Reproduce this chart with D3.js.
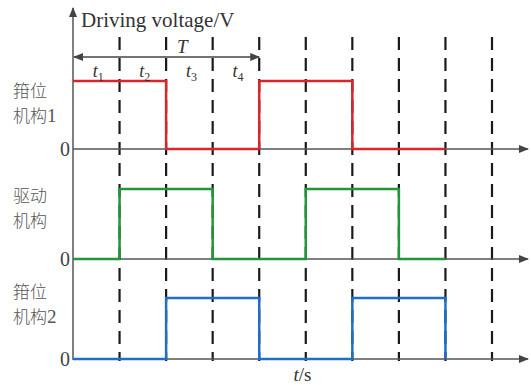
<!DOCTYPE html>
<html>
<head>
<meta charset="utf-8">
<script src="https://cdn.jsdelivr.net/npm/d3@7"></script>
<style>
body { margin:0; background:#fff; }
text { font-family: "Liberation Serif", "DejaVu Serif", serif; fill:#333; }
.cn { font-family: "Noto Sans CJK SC", sans-serif; fill:#555; font-weight:300; }
</style>
</head>
<body>
<svg width="531" height="385"></svg>
<script>
// one value per interval t..t+1
var steps = [0, 1, 2, 3, 4, 5, 6, 7];
var clamp1 = [1, 1, 0, 0, 1, 1, 0, 0];
var drive  = [0, 1, 1, 0, 0, 1, 1, 0];
var clamp2 = [0, 0, 1, 1, 0, 0, 1, 1];
var gridTimes = [1, 2, 3, 4, 5, 6, 7, 8, 9];
var phaseLabels = ["1", "2", "3", "4"];
var panelNames = [["箝位", "机构", "1"], ["驱动", "机构", ""], ["箝位", "机构", "2"]];

var svg = d3.select("svg");

var x = d3.scaleLinear().domain([0, 9]).range([73, 492]);
var panels = [
  { y: d3.scaleLinear().domain([0, 1]).range([149, 81]), data: clamp1, color: "#d8262b", ny: 91 },
  { y: d3.scaleLinear().domain([0, 1]).range([259, 189]), data: drive, color: "#22963a", ny: 196 },
  { y: d3.scaleLinear().domain([0, 1]).range([359, 298]), data: clamp2, color: "#1f6fc6", ny: 292 }
];

var defs = svg.append("defs");
defs.append("marker").attr("id", "arr").attr("viewBox", "0 0 10 10")
  .attr("refX", 9).attr("refY", 5).attr("markerWidth", 10).attr("markerHeight", 10)
  .attr("markerUnits", "userSpaceOnUse").attr("orient", "auto-start-reverse")
  .append("path").attr("d", "M0,1 L10,5 L0,9 Z").attr("fill", "#444");

// dashed grid
svg.selectAll(".grid").data(gridTimes).enter().append("line")
  .attr("x1", d => x(d)).attr("x2", d => x(d))
  .attr("y1", 37).attr("y2", 361)
  .attr("stroke", "#1a1a1a").attr("stroke-width", 2.2)
  .attr("stroke-dasharray", "13,8");

// axes
svg.append("line").attr("x1", x(0)).attr("x2", x(0)).attr("y1", 360).attr("y2", 8)
  .attr("stroke", "#555").attr("stroke-width", 1.5).attr("marker-end", "url(#arr)");

panels.forEach(function(p, k) {
  svg.append("line").attr("x1", x(0)).attr("x2", 528).attr("y1", p.y(0)).attr("y2", p.y(0))
    .attr("stroke", "#555").attr("stroke-width", 1.5).attr("marker-end", "url(#arr)");
  svg.append("text").attr("x", 70).attr("y", p.y(0) + 7).attr("text-anchor", "end")
    .style("font-size", "20px").style("fill", "#444").text("0");

  svg.append("text").attr("class", "cn").attr("x", 13).attr("y", p.ny + 6)
    .style("font-size", "17px").text(panelNames[k][0]);
  var lbl = svg.append("text").attr("x", 13).attr("y", p.ny + 31).style("fill", "#555");
  lbl.append("tspan").attr("class", "cn").style("font-size", "17px").text(panelNames[k][1]);
  lbl.append("tspan").style("font-size", "19px").text(panelNames[k][2]);

  var pts = steps.map((s, i) => [s, p.data[i]]);
  pts.push([steps.length, p.data[p.data.length - 1]]);
  pts.push([steps.length, 0]);
  var line = d3.line().x(d => x(d[0])).y(d => p.y(d[1])).curve(d3.curveStepAfter);
  svg.append("path").datum(pts).attr("d", line)
    .attr("fill", "none").attr("stroke", p.color).attr("stroke-width", 2.5);
});

svg.append("text").attr("x", 81).attr("y", 27).style("font-size", "21px").text("Driving voltage/V");

// period arrow
svg.append("line").attr("x1", x(0) + 1).attr("x2", x(4)).attr("y1", 57).attr("y2", 57)
  .attr("stroke", "#444").attr("stroke-width", 1.3)
  .attr("marker-start", "url(#arr)").attr("marker-end", "url(#arr)");
svg.append("text").attr("x", x(2.35)).attr("y", 53).attr("text-anchor", "middle")
  .style("font-size", "19px").style("font-style", "italic").text("T");

phaseLabels.forEach(function(s, i) {
  var t = svg.append("text").attr("x", x(i + 0.5) + 2).attr("y", 77).attr("text-anchor", "middle")
    .style("font-size", "18px");
  t.append("tspan").style("font-style", "italic").text("t");
  t.append("tspan").attr("dy", 4).style("font-size", "12px").text(s);
});

var ts = svg.append("text").attr("x", x(4.93)).attr("y", 381).attr("text-anchor", "middle")
  .style("font-size", "19px");
ts.append("tspan").style("font-style", "italic").text("t");
ts.append("tspan").text("/s");
</script>
</body>
</html>
